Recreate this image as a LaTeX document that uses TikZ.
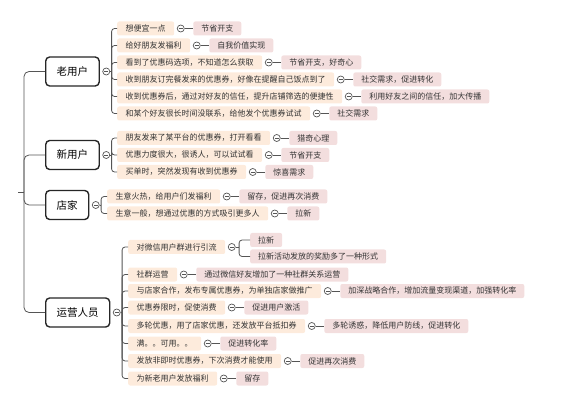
\documentclass[tikz,border=0pt]{standalone}
\usepackage{fontspec}
\setmainfont{Noto Sans CJK SC}
\usetikzlibrary{positioning}
\definecolor{leafbg}{HTML}{FDEBDC}
\definecolor{notebg}{HTML}{F3DEDE}
\definecolor{linegray}{HTML}{555555}

\begin{document}
\begin{tikzpicture}[
    x=1pt, y=-1pt,
    font=\fontsize{8pt}{10pt}\selectfont,
    topic/.style={rectangle, rounded corners=4pt, draw=black!85,
                  line width=1.4pt, fill=white, anchor=west,
                  font=\fontsize{10.5pt}{12pt}\selectfont,
                  inner xsep=11pt, minimum height=29pt},
    leaf/.style={rectangle, rounded corners=2pt, fill=leafbg, anchor=west,
                 inner xsep=8.5pt, inner ysep=0pt, minimum height=14pt,
                 text=black!80},
    note/.style={leaf, fill=notebg, inner xsep=8pt},
    knob/.style={circle, draw=linegray, fill=white, line width=0.7pt,
                 inner sep=0pt, minimum size=7pt,
                 path picture={\draw[linegray, line width=0.5pt]
                   ([xshift=-2pt]path picture bounding box.center) --
                   ([xshift=2pt]path picture bounding box.center);}},
    conn/.style={draw=linegray, line width=0.8pt, rounded corners=3pt},
]
    \useasboundingbox (0,0) rectangle (565,414);
    % leaf columns
    \def\colO{117}
    \def\colS{107}
    \def\colP{128}

    % Root trunk
    \coordinate (root) at (18,192);
    \coordinate (trunk) at (24,192);

    % Topics
    \node[topic] (old) at (45,71.5) {老用户};
    \node[topic] (new) at (45,155) {新用户};
    \node[topic] (shop) at (45,205) {店家};
    \node[topic] (ops) at (45,312.5) {运营人员};
    \node[knob, right=2.5pt of old] (oldc) {};
    \node[knob, right=2.5pt of new] (newc) {};
    \node[knob, right=2.5pt of shop] (shopc) {};
    \node[knob, right=2.5pt of ops] (opsc) {};

    \draw[conn] (root) -- (trunk);
    \draw[conn, rounded corners=5pt] (trunk) |- (old.west);
    \draw[conn, rounded corners=5pt] (trunk) |- (new.west);
    \draw[conn, rounded corners=5pt] (trunk) |- (shop.west);
    \draw[conn, rounded corners=5pt] (trunk) |- (ops.west);

    % Old users
    \node[leaf] (o1) at (\colO,28.5) {想便宜一点};
    \node[leaf] (o2) at (\colO,45.5) {给好朋友发福利};
    \node[leaf] (o3) at (\colO,62.5) {看到了优惠码选项，不知道怎么获取};
    \node[leaf] (o4) at (\colO,79.5) {收到朋友订完餐发来的优惠券，好像在提醒自己饭点到了};
    \node[leaf] (o5) at (\colO,96.5) {收到优惠券后，通过对好友的信任，提升店铺筛选的便捷性};
    \node[leaf] (o6) at (\colO,113.5) {和某个好友很长时间没联系，给他发个优惠券试试};
    \node[knob, right=2.5pt of o1] (o1c) {};
    \node[knob, right=2.5pt of o2] (o2c) {};
    \node[knob, right=2.5pt of o3] (o3c) {};
    \node[knob, right=2.5pt of o4] (o4c) {};
    \node[knob, right=2.5pt of o5] (o5c) {};
    \node[knob, right=2.5pt of o6] (o6c) {};
    \node[note, right=8.5pt of o1c] (o1n) {节省开支};
    \node[note, right=8.5pt of o2c] (o2n) {自我价值实现};
    \node[note, right=8.5pt of o3c] (o3n) {节省开支，好奇心};
    \node[note, right=8.5pt of o4c] (o4n) {社交需求，促进转化};
    \node[note, right=8.5pt of o5c] (o5n) {利用好友之间的信任，加大传播};
    \node[note, right=8.5pt of o6c] (o6n) {社交需求};

    \coordinate (oldb) at ([xshift=1.5pt]oldc.east);
    \draw[conn] (oldc.east) -- (oldb);
    \draw[conn] (oldb) |- (o1.west);
    \draw[conn] (oldb) |- (o2.west);
    \draw[conn] (oldb) |- (o3.west);
    \draw[conn] (oldb) |- (o4.west);
    \draw[conn] (oldb) |- (o5.west);
    \draw[conn] (oldb) |- (o6.west);
    \draw[conn] (o1c) -- (o1n);
    \draw[conn] (o2c) -- (o2n);
    \draw[conn] (o3c) -- (o3n);
    \draw[conn] (o4c) -- (o4n);
    \draw[conn] (o5c) -- (o5n);
    \draw[conn] (o6c) -- (o6n);

    % New users
    \node[leaf] (n1) at (\colO,138) {朋友发来了某平台的优惠券，打开看看};
    \node[leaf] (n2) at (\colO,155) {优惠力度很大，很诱人，可以试试看};
    \node[leaf] (n3) at (\colO,172) {买单时，突然发现有收到优惠券};
    \node[knob, right=2.5pt of n1] (n1c) {};
    \node[knob, right=2.5pt of n2] (n2c) {};
    \node[knob, right=2.5pt of n3] (n3c) {};
    \node[note, right=8.5pt of n1c] (n1n) {猎奇心理};
    \node[note, right=8.5pt of n2c] (n2n) {节省开支};
    \node[note, right=8.5pt of n3c] (n3n) {惊喜需求};

    \coordinate (newb) at ([xshift=1.5pt]newc.east);
    \draw[conn] (newc.east) -- (newb);
    \draw[conn] (newb) |- (n1.west);
    \draw[conn] (newb) |- (n2.west);
    \draw[conn] (newb) |- (n3.west);
    \draw[conn] (n1c) -- (n1n);
    \draw[conn] (n2c) -- (n2n);
    \draw[conn] (n3c) -- (n3n);

    % Shop
    \node[leaf] (s1) at (\colS,196.5) {生意火热，给用户们发福利};
    \node[leaf] (s2) at (\colS,213.5) {生意一般，想通过优惠的方式吸引更多人};
    \node[knob, right=2.5pt of s1] (s1c) {};
    \node[knob, right=2.5pt of s2] (s2c) {};
    \node[note, right=8.5pt of s1c] (s1n) {留存，促进再次消费};
    \node[note, right=8.5pt of s2c] (s2n) {拉新};

    \coordinate (shopb) at ([xshift=1.5pt]shopc.east);
    \draw[conn] (shopc.east) -- (shopb);
    \draw[conn] (shopb) |- (s1.west);
    \draw[conn] (shopb) |- (s2.west);
    \draw[conn] (s1c) -- (s1n);
    \draw[conn] (s2c) -- (s2n);

    % Operators
    \node[leaf] (p1) at (\colP,247) {对微信用户群进行引流};
    \node[leaf] (p2) at (\colP,274.5) {社群运营};
    \node[leaf] (p3) at (\colP,291) {与店家合作，发布专属优惠券，为单独店家做推广};
    \node[leaf] (p4) at (\colP,307.5) {优惠券限时，促使消费};
    \node[leaf] (p5) at (\colP,326) {多轮优惠，用了店家优惠，还发放平台抵扣券};
    \node[leaf] (p6) at (\colP,343.5) {满。。可用。。};
    \node[leaf] (p7) at (\colP,361) {发放非即时优惠券，下次消费才能使用};
    \node[leaf] (p8) at (\colP,378.5) {为新老用户发放福利};
    \node[knob, right=2.5pt of p1] (p1c) {};
    \node[knob, right=2.5pt of p2] (p2c) {};
    \node[knob, right=2.5pt of p3] (p3c) {};
    \node[knob, right=2.5pt of p4] (p4c) {};
    \node[knob, right=2.5pt of p5] (p5c) {};
    \node[knob, right=2.5pt of p6] (p6c) {};
    \node[knob, right=2.5pt of p7] (p7c) {};
    \node[knob, right=2.5pt of p8] (p8c) {};
    \node[note] (p1n) at (250,240) {拉新};
    \node[note] (p1m) at (250,256.5) {拉新活动发放的奖励多了一种形式};
    \node[note, right=8.5pt of p2c] (p2n) {通过微信好友增加了一种社群关系运营};
    \node[note, right=8.5pt of p3c] (p3n) {加深战略合作，增加流量变现渠道，加强转化率};
    \node[note, right=8.5pt of p4c] (p4n) {促进用户激活};
    \node[note, right=8.5pt of p5c] (p5n) {多轮诱惑，降低用户防线，促进转化};
    \node[note, right=8.5pt of p6c] (p6n) {促进转化率};
    \node[note, right=8.5pt of p7c] (p7n) {促进再次消费};
    \node[note, right=8.5pt of p8c] (p8n) {留存};

    \coordinate (opsb) at ([xshift=1.5pt]opsc.east);
    \draw[conn] (opsc.east) -- (opsb);
    \draw[conn] (opsb) |- (p1.west);
    \draw[conn] (opsb) |- (p2.west);
    \draw[conn] (opsb) |- (p3.west);
    \draw[conn] (opsb) |- (p4.west);
    \draw[conn] (opsb) |- (p5.west);
    \draw[conn] (opsb) |- (p6.west);
    \draw[conn] (opsb) |- (p7.west);
    \draw[conn] (opsb) |- (p8.west);
    \coordinate (p1b) at ([xshift=3.5pt]p1c.east);
    \draw[conn] (p1c.east) -- (p1b);
    \draw[conn] (p1b) |- (p1n.west);
    \draw[conn] (p1b) |- (p1m.west);
    \draw[conn] (p2c) -- (p2n);
    \draw[conn] (p3c) -- (p3n);
    \draw[conn] (p4c) -- (p4n);
    \draw[conn] (p5c) -- (p5n);
    \draw[conn] (p6c) -- (p6n);
    \draw[conn] (p7c) -- (p7n);
    \draw[conn] (p8c) -- (p8n);
\end{tikzpicture}
\end{document}
